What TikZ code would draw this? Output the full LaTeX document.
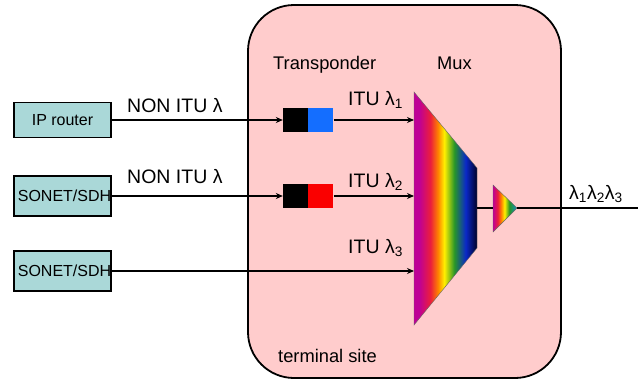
\documentclass[tikz,border=0pt]{standalone}
\usepackage{fontspec}
\setmainfont{Liberation Sans}
\usetikzlibrary{arrows.meta}

\definecolor{sitefill}{RGB}{255,204,204}
\definecolor{devfill}{RGB}{170,216,216}
\definecolor{txblue}{RGB}{20,110,255}
\definecolor{txred}{RGB}{250,0,0}
\definecolor{rbmag}{RGB}{190,0,150}
\definecolor{rbred}{RGB}{235,30,60}
\definecolor{rborange}{RGB}{255,130,0}
\definecolor{rbyellow}{RGB}{255,240,0}
\definecolor{rbgreen}{RGB}{40,150,40}
\definecolor{rbblue}{RGB}{10,40,200}
\definecolor{rbnavy}{RGB}{0,0,40}
\definecolor{rbteal}{RGB}{20,140,200}

% stops placed on the central 25bp--75bp band that is fitted to the path
\pgfdeclarehorizontalshading{muxrainbow}{100bp}{%
  color(0bp)=(rbmag); color(29bp)=(rbmag); color(38bp)=(rbred);
  color(44bp)=(rborange); color(49bp)=(rbyellow); color(57bp)=(rbgreen);
  color(66bp)=(rbblue); color(75bp)=(rbnavy); color(100bp)=(rbnavy)}
\pgfdeclarehorizontalshading{tinyrainbow}{100bp}{%
  color(0bp)=(rbmag); color(25bp)=(rbmag); color(35bp)=(rbred);
  color(42bp)=(rborange); color(49bp)=(rbyellow); color(59bp)=(rbgreen);
  color(75bp)=(rbteal); color(100bp)=(rbteal)}

\begin{document}
\begin{tikzpicture}[x=1pt,y=-1pt,
  dev/.style={draw=black, line width=1.8pt, fill=devfill, minimum width=97pt,
    minimum height=35pt, inner sep=0pt, font=\fontsize{16}{18}\selectfont},
  txhalf/.style={minimum width=25pt, minimum height=24pt, inner sep=0pt, draw=none},
  lbl/.style={font=\fontsize{19.5}{22}\selectfont, inner sep=0pt, anchor=base west},
  head/.style={font=\fontsize{18.3}{21}\selectfont, inner sep=0pt, anchor=base west},
  link/.style={line width=1.2pt, -{Stealth[length=7pt,width=6pt]}},
  wire/.style={line width=1.2pt}]
\useasboundingbox (0,0) rectangle (638,380);

% terminal site enclosure
\draw[fill=sitefill, line width=1.8pt, rounded corners=46pt] (248,5) rectangle (561,378);

% client equipment
\node[dev] (ip) at (62.5,120) {IP router};
\node[dev, minimum height=40pt] (sd1) at (62.5,196) {\hspace*{4pt}SONET/SDH};
\node[dev, minimum height=40pt] (sd2) at (62.5,271) {\hspace*{4pt}SONET/SDH};

% transponders
\node[txhalf, fill=black] (t1k) at (295.5,120) {};
\node[txhalf, fill=txblue, anchor=west] (t1c) at (t1k.east) {};
\node[txhalf, fill=black] (t2k) at (295.5,196) {};
\node[txhalf, fill=txred, anchor=west] (t2c) at (t2k.east) {};

% multiplexer
\shade[shading=muxrainbow] (414,92) -- (477,168) -- (477,248) -- (414,325) -- cycle;
\draw[line width=0.4pt, black!60] (414,92) -- (477,168) -- (477,248) -- (414,325) -- cycle;
\coordinate (m1) at (414,120);
\coordinate (m2) at (414,196);
\coordinate (m3) at (414,271);
\coordinate (mo) at (477,208);

% output amplifier
\shade[shading=tinyrainbow] (493,185) -- (517,208) -- (493,232) -- cycle;
\draw[line width=0.4pt, black!60] (493,185) -- (517,208) -- (493,232) -- cycle;
\coordinate (ai) at (493,208);
\coordinate (ao) at (517,208);
\coordinate (line) at (638,208);

% connections
\draw[link] (ip.east) -- (t1k.west);
\draw[link] (sd1.east) -- (t2k.west);
\draw[link] (t1c.east) -- (m1);
\draw[link] (t2c.east) -- (m2);
\draw[link] (sd2.east) -- (m3);
\draw[wire] (mo) -- (ai);
\draw[wire] (ao) -- (line);

% labels
\node[lbl] (n1) at (127,112) {NON ITU λ};
\node[lbl] (n2) at (127,183) {NON ITU λ};
\node[lbl] (i1) at (348,105) {ITU λ\textsubscript{1}};
\node[lbl] (i2) at (348,187) {ITU λ\textsubscript{2}};
\node[lbl] (i3) at (348,253) {ITU λ\textsubscript{3}};
\node[lbl] (wdm) at (569,199) {λ\textsubscript{1}λ\textsubscript{2}λ\textsubscript{3}};
\node[head] (tp) at (273,69) {Transponder};
\node[head] (mx) at (437,69) {Mux};
\node[head] (ts) at (278,362) {terminal site};
\end{tikzpicture}
\end{document}
